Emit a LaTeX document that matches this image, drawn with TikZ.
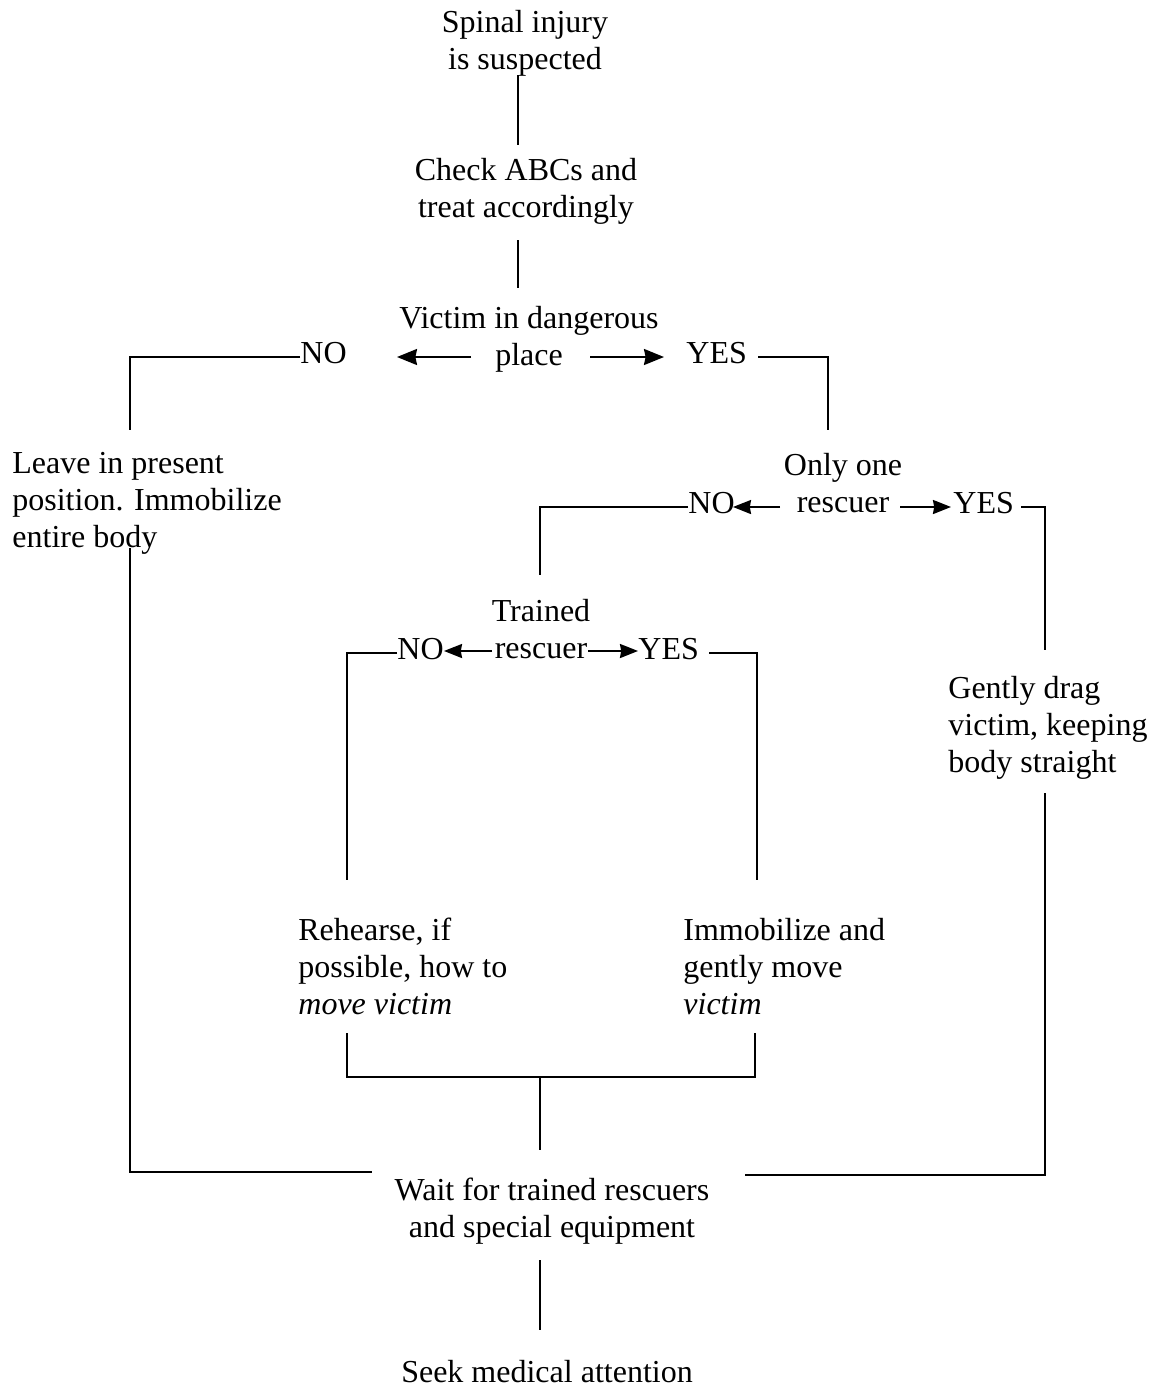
\documentclass[tikz,border=0pt]{standalone}
\usepackage{fontspec}
\setmainfont{Liberation Serif}
\usetikzlibrary{arrows.meta}
\begin{document}
\begin{tikzpicture}[x=0.5pt,y=-0.5pt,
  txt/.style={inner sep=0pt, align=center, font=\fontsize{16}{18.5}\selectfont},
  txtl/.style={txt, align=left, anchor=north west},
  lbl/.style={inner sep=0pt, font=\fontsize{16}{18.5}\selectfont, anchor=base west},
  conn/.style={line width=1pt, line join=miter},
  arr/.style={line width=1pt, -{Stealth[length=9pt,width=7pt,inset=0.6pt]}},
  bigarr/.style={line width=1pt, -{Stealth[length=10pt,width=8pt,inset=0.8pt]}}]
\fill[white] (0,0) rectangle (1154,1388);
\useasboundingbox (0,0) rectangle (1154,1388);

% --- main column ---
\node[txt, anchor=north] (start) at (525,6) {\strut Spinal injury\\is suspected};
\node[txt, anchor=north] (abc) at (526,154) {\strut Check ABCs and\\treat accordingly};
\node[txt, anchor=north] (danger) at (529,302) {\strut Victim in dangerous\\place};
\node[lbl] (no1) at (300,363) {NO};
\node[lbl] (yes1) at (686,363) {YES};

\coordinate (s1a) at (518,75);  \coordinate (s1b) at (518,145);
\coordinate (s2a) at (518,240); \coordinate (s2b) at (518,288);
\draw[conn] (s1a) -- (s1b);
\draw[conn] (s2a) -- (s2b);

\coordinate (d1l) at (471,357); \coordinate (d1lt) at (397,357);
\coordinate (d1r) at (590,357); \coordinate (d1rt) at (664,357);
\draw[bigarr] (d1l) -- (d1lt);
\draw[bigarr] (d1r) -- (d1rt);
\coordinate (noend1) at (130,430);
\coordinate (yesend1) at (828,430);
\draw[conn] ([yshift=3pt]no1.base west) -| (noend1);
\draw[conn] ([xshift=5.5pt,yshift=3pt]yes1.base east) -| (yesend1);

% --- not in danger ---
\node[txtl] (leave) at (12,447) {\strut Leave in present\\position. Immobilize\\entire body};
\coordinate (lv1) at (130,548); \coordinate (lv2) at (372,1172);
\draw[conn] (lv1) |- (lv2);

% --- in danger: number of rescuers ---
\node[txt, anchor=north] (one) at (843,449) {\strut Only one\\rescuer};
\node[lbl] (no2) at (688,513) {NO};
\node[lbl] (yes2) at (953,513) {YES};
\coordinate (d2l) at (780,507); \coordinate (d2lt) at (733,507);
\coordinate (d2r) at (900,507); \coordinate (d2rt) at (951,507);
\draw[arr] (d2l) -- (d2lt);
\draw[arr] (d2r) -- (d2rt);
\coordinate (noend2) at (540,575);
\coordinate (yesend2) at (1045,650);
\draw[conn] ([yshift=3pt]no2.base west) -| (noend2);
\draw[conn] ([xshift=3.5pt,yshift=3pt]yes2.base east) -| (yesend2);

% --- single rescuer ---
\node[txtl] (drag) at (948,672) {\strut Gently drag\\victim, keeping\\body straight};
\coordinate (dr1) at (1045,793); \coordinate (dr2) at (745,1175);
\draw[conn] (dr1) |- (dr2);

% --- several rescuers: trained? ---
\node[txt, anchor=north] (trained) at (541,595) {\strut Trained\\rescuer};
\node[lbl] (no3) at (397,659) {NO};
\node[lbl] (yes3) at (638,659) {YES};
\coordinate (d3l) at (492,651); \coordinate (d3lt) at (444,651);
\coordinate (d3r) at (588,651); \coordinate (d3rt) at (638,651);
\draw[arr] (d3l) -- (d3lt);
\draw[arr] (d3r) -- (d3rt);
\coordinate (noend3) at (347,880);
\coordinate (yesend3) at (757,880);
\draw[conn] ([yshift=3pt]no3.base west) -| (noend3);
\draw[conn] ([xshift=5pt,yshift=3pt]yes3.base east) -| (yesend3);

\node[txtl] (rehearse) at (298,914) {\strut Rehearse, if\\possible, how to\\\textit{move victim}};
\node[txtl] (immob) at (683,914) {\strut Immobilize and\\gently move\\\textit{victim}};
\coordinate (br1) at (347,1033); \coordinate (br2) at (755,1033);
\coordinate (brm) at (540,1077); \coordinate (brs) at (540,1150);
\draw[conn] (br1) |- (brm) -| (br2);
\draw[conn] (brm) -- (brs);

% --- common end ---
\node[txt, anchor=north] (wait) at (552,1174) {\strut Wait for trained rescuers\\and special equipment};
\node[txt, anchor=base] (seek) at (547,1382) {Seek medical attention};
\coordinate (w1) at (540,1260); \coordinate (w2) at (540,1330);
\draw[conn] (w1) -- (w2);
\end{tikzpicture}
\end{document}
